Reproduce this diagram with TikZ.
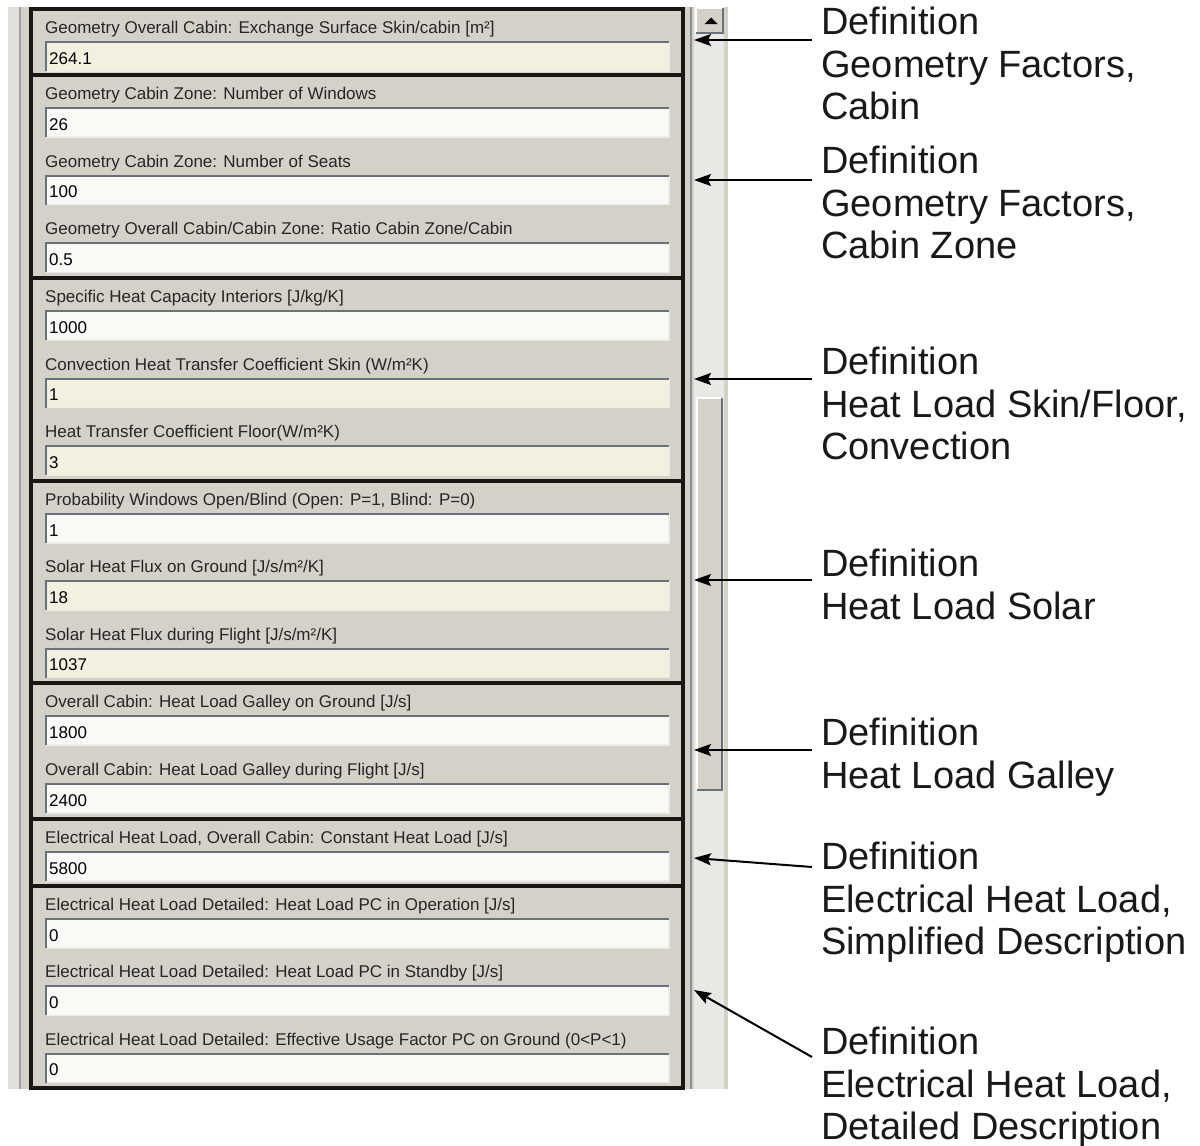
\documentclass[tikz,border=0pt]{standalone}
\usepackage{fontspec}
\setmainfont{Liberation Sans}
\usetikzlibrary{arrows.meta}

\definecolor{panelgray}{HTML}{D4D1C9}
\definecolor{stripgray}{HTML}{E2E0DA}
\definecolor{edgedark}{HTML}{6B7178}
\definecolor{edgelight}{HTML}{EDEBE5}
\definecolor{fieldwhite}{HTML}{F9F9F6}
\definecolor{fieldcream}{HTML}{F4F0E0}
\definecolor{trackgray}{HTML}{E8E8E4}
\definecolor{labelink}{HTML}{262626}
\definecolor{frameink}{HTML}{1A1614}

% one input row: name, row top, caption, value, fill colour
\newcommand{\fieldrow}[5]{%
  \node[lbl] (#1l) at (45,{#2+24.5}) {#3};
  \fill[#5] (46,{#2+33}) rectangle (669,{#2+62});
  \draw[edgelight, line width=1.5pt] (46,{#2+62}) -- (669,{#2+62}) -- (669,{#2+33});
  \draw[edgedark, line width=2pt] (46,{#2+62}) -- (46,{#2+33}) -- (669,{#2+33});
  \node[val] (#1v) at (49,{#2+55}) {#4};
}

\begin{document}
\begin{tikzpicture}[x=1pt,y=-1pt,
  lbl/.style={anchor=base west, inner sep=0pt, text=labelink, font=\fontsize{17}{20}\selectfont},
  val/.style={anchor=base west, inner sep=0pt, text=black, font=\fontsize{17}{20}\selectfont},
  grp/.style={draw=frameink, line width=4pt},
  deflbl/.style={anchor=north west, inner sep=0pt, align=left, text=black!90, font=\fontsize{38}{42.5}\selectfont},
  arr/.style={line width=2pt, draw=black, -{Stealth[length=17pt,width=12pt,inset=3pt]}}
]
\useasboundingbox (0,0) rectangle (1200,1146);

% dialog background
\fill[panelgray] (8,7) rectangle (728,1089);
\fill[stripgray] (8,7) rectangle (19,1089);
\draw[gray!75, line width=2pt] (20,7) -- (20,1089);

% scroll bar
\fill[trackgray] (694,7) rectangle (724,1089);
\draw[edgedark!80, line width=2pt] (691,7) -- (691,1089);
\fill[panelgray] (696,8) rectangle (723,33);
\draw[white, line width=1.5pt] (696,33) -- (696,8) -- (723,8);
\draw[edgedark, line width=1.5pt] (696,33) -- (723,33) -- (723,8);
\fill[black] (704.5,24) -- (717.5,24) -- (711,17.5) -- cycle;
\fill[panelgray] (697,398) rectangle (722,790);
\draw[white, line width=1.5pt] (697,790) -- (697,398) -- (722,398);
\draw[edgedark, line width=2pt] (697,790) -- (722,790) -- (722,398);

% input rows
\fieldrow{r1}{9}{Geometry Overall Cabin: Exchange Surface Skin/cabin [m²]}{264.1}{fieldcream}
\fieldrow{r2}{75}{Geometry Cabin Zone: Number of Windows}{26}{fieldwhite}
\fieldrow{r3}{142.7}{Geometry Cabin Zone: Number of Seats}{100}{fieldwhite}
\fieldrow{r4}{210.3}{Geometry Overall Cabin/Cabin Zone: Ratio Cabin Zone/Cabin}{0.5}{fieldwhite}
\fieldrow{r5}{278}{Specific Heat Capacity Interiors [J/kg/K]}{1000}{fieldwhite}
\fieldrow{r6}{345.7}{Convection Heat Transfer Coefficient Skin (W/m²K)}{1}{fieldcream}
\fieldrow{r7}{413.3}{Heat Transfer Coefficient Floor(W/m²K)}{3}{fieldcream}
\fieldrow{r8}{481}{Probability Windows Open/Blind (Open: P=1, Blind: P=0)}{1}{fieldwhite}
\fieldrow{r9}{548.3}{Solar Heat Flux on Ground [J/s/m²/K]}{18}{fieldcream}
\fieldrow{r10}{615.7}{Solar Heat Flux during Flight [J/s/m²/K]}{1037}{fieldcream}
\fieldrow{r11}{683}{Overall Cabin: Heat Load Galley on Ground [J/s]}{1800}{fieldwhite}
\fieldrow{r12}{751}{Overall Cabin: Heat Load Galley during Flight [J/s]}{2400}{fieldwhite}
\fieldrow{r13}{819}{Electrical Heat Load, Overall Cabin: Constant Heat Load [J/s]}{5800}{fieldwhite}
\fieldrow{r14}{886}{Electrical Heat Load Detailed: Heat Load PC in Operation [J/s]}{0}{fieldwhite}
\fieldrow{r15}{953.3}{Electrical Heat Load Detailed: Heat Load PC in Standby [J/s]}{0}{fieldwhite}
\fieldrow{r16}{1020.7}{Electrical Heat Load Detailed: Effective Usage Factor PC on Ground (0<P<1)}{0}{fieldwhite}

% parameter groups
\draw[grp] (31,9) rectangle (683,75);
\draw[grp] (31,75) rectangle (683,278);
\draw[grp] (31,278) rectangle (683,481);
\draw[grp] (31,481) rectangle (683,683);
\draw[grp] (31,683) rectangle (683,819);
\draw[grp] (31,819) rectangle (683,886);
\draw[grp] (31,886) rectangle (683,1088);

% explanations
\node[deflbl] (d1) at (821,7) {Definition\\Geometry Factors,\\Cabin};
\node[deflbl] (d2) at (821,146) {Definition\\Geometry Factors,\\Cabin Zone};
\node[deflbl] (d3) at (821,347) {Definition\\Heat Load Skin/Floor,\\Convection};
\node[deflbl] (d4) at (821,549) {Definition\\Heat Load Solar};
\node[deflbl] (d5) at (821,718) {Definition\\Heat Load Galley};
\node[deflbl] (d6) at (821,842) {Definition\\Electrical Heat Load,\\Simplified Description};
\node[deflbl] (d7) at (821,1027) {Definition\\Electrical Heat Load,\\Detailed Description};

\coordinate (s1) at (812,40);   \coordinate (e1) at (694,40);
\coordinate (s2) at (812,180);  \coordinate (e2) at (694,180);
\coordinate (s3) at (812,379);  \coordinate (e3) at (694,379);
\coordinate (s4) at (812,580);  \coordinate (e4) at (694,580);
\coordinate (s5) at (812,750);  \coordinate (e5) at (694,750);
\coordinate (s6) at (812,867);  \coordinate (e6) at (694,858);
\coordinate (s7) at (812,1057); \coordinate (e7) at (694,990);
\foreach \i in {1,...,7} { \draw[arr] (s\i) -- (e\i); }
\end{tikzpicture}
\end{document}
